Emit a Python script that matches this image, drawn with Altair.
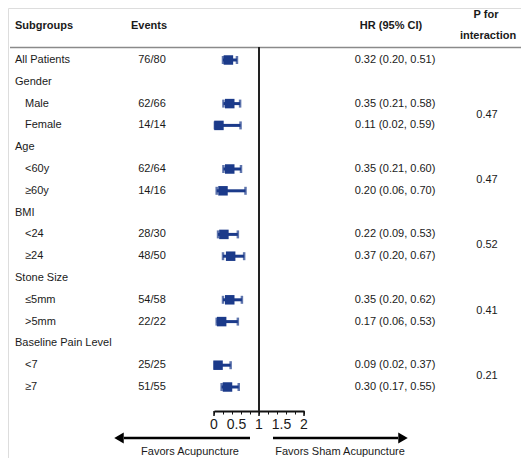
import altair as alt
import pandas as pd

# ---- data ----
labels = ["All Patients", "Gender", "Male", "Female", "Age", "<60y", "≥60y",
          "BMI", "<24", "≥24", "Stone Size", "≤5mm", ">5mm",
          "Baseline Pain Level", "<7", "≥7"]
indent = [0, 0, 1, 1, 0, 1, 1, 0, 1, 1, 0, 1, 1, 0, 1, 1]
events = ["76/80", "", "62/66", "14/14", "", "62/64", "14/16", "", "28/30", "48/50",
          "", "54/58", "22/22", "", "25/25", "51/55"]
hr = [0.32, None, 0.35, 0.11, None, 0.35, 0.20, None, 0.22, 0.37, None, 0.35, 0.17, None, 0.09, 0.30]
lo = [0.20, None, 0.21, 0.02, None, 0.21, 0.06, None, 0.09, 0.20, None, 0.20, 0.06, None, 0.02, 0.17]
hi = [0.51, None, 0.58, 0.59, None, 0.60, 0.70, None, 0.53, 0.67, None, 0.62, 0.53, None, 0.37, 0.55]
hr_text = ["0.32 (0.20, 0.51)", "", "0.35 (0.21, 0.58)", "0.11 (0.02, 0.59)", "",
           "0.35 (0.21, 0.60)", "0.20 (0.06, 0.70)", "", "0.22 (0.09, 0.53)",
           "0.37 (0.20, 0.67)", "", "0.35 (0.20, 0.62)", "0.17 (0.06, 0.53)", "",
           "0.09 (0.02, 0.37)", "0.30 (0.17, 0.55)"]
p_rows = [2.5, 5.5, 8.5, 11.5, 14.5]
p_vals = ["0.47", "0.47", "0.52", "0.41", "0.21"]
minor_ticks = [0, 0.1, 0.2, 0.3, 0.4, 0.5, 0.6, 0.7, 0.8, 0.9, 1.0,
               1.1, 1.2, 1.3, 1.4, 1.5, 1.6, 1.7, 1.8, 1.9, 2.0]
major_ticks = [0, 1, 2]
tick_label_vals = [0, 0.5, 1, 1.5, 2]
tick_label_text = ["0", "0.5", "1", "1.5", "2"]

rows = pd.DataFrame({
    "row": list(range(len(labels))),
    "label": labels,
    "indent": indent,
    "events": events,
    "hr": hr, "lo": lo, "hi": hi,
    "hr_text": hr_text,
})
est = rows.dropna(subset=["hr"])
pdf = pd.DataFrame({"row": p_rows, "p": p_vals})

NAVY = "#1b3a8a"
FONT = "Liberation Sans"
TXT = "#1a1a1a"

xs = alt.Scale(domain=[0, 2], range=[206, 296])
ys = alt.Scale(domain=[0, 15], range=[52, 379])

X_AXIS = alt.Axis(values=minor_ticks, offset=-47, domainWidth=2, domainColor="#111",
                  tickColor="#111", tickSize=3, tickWidth=1, labels=False, grid=False,
                  title=None)

base = alt.Chart(est)

ci = base.mark_rule(color=NAVY, strokeWidth=3).encode(
    x=alt.X("lo:Q", scale=xs, axis=X_AXIS), x2="hi:Q",
    y=alt.Y("row:Q", scale=ys, axis=None))
cap_lo = base.mark_tick(color=NAVY, orient="vertical", size=8, thickness=2.5).encode(
    x=alt.X("lo:Q", scale=xs), y=alt.Y("row:Q", scale=ys))
cap_hi = base.mark_tick(color=NAVY, orient="vertical", size=8, thickness=2.5).encode(
    x=alt.X("hi:Q", scale=xs), y=alt.Y("row:Q", scale=ys))
sq = base.mark_square(color=NAVY, size=90, opacity=1).encode(
    x=alt.X("hr:Q", scale=xs), y=alt.Y("row:Q", scale=ys))

lab = alt.Chart(rows).mark_text(align="left", baseline="middle", font=FONT,
                                fontSize=11, color=TXT).encode(
    x=alt.X("xpos:Q", scale=None), y=alt.Y("row:Q", scale=ys), text="label:N"
).transform_calculate(xpos="datum.indent == 1 ? 17 : 7")

ev = alt.Chart(rows).mark_text(align="center", baseline="middle", font=FONT,
                               fontSize=11, color=TXT).encode(
    x=alt.value(144), y=alt.Y("row:Q", scale=ys), text="events:N")
hrt = alt.Chart(rows).mark_text(align="center", baseline="middle", font=FONT,
                                fontSize=11, color=TXT).encode(
    x=alt.value(387), y=alt.Y("row:Q", scale=ys), text="hr_text:N")
pt = alt.Chart(pdf).mark_text(align="center", baseline="middle", font=FONT,
                              fontSize=11, color=TXT).encode(
    x=alt.value(479), y=alt.Y("row:Q", scale=ys), text="p:N")

headers = pd.DataFrame({
    "t": ["Subgroups", "Events", "HR (95% CI)", "P for", "interaction"],
    "x": [7, 141, 383, 478, 480],
    "y": [18, 18, 18, 7, 28],
    "a": ["left", "center", "center", "center", "center"],
})
hdr_left = alt.Chart(headers[headers.a == "left"]).mark_text(
    align="left", baseline="middle", font=FONT, fontSize=11, fontWeight="bold", color=TXT
).encode(x=alt.X("x:Q", scale=None), y=alt.Y("y:Q", scale=None), text="t:N")
hdr_c = alt.Chart(headers[headers.a == "center"]).mark_text(
    align="center", baseline="middle", font=FONT, fontSize=11, fontWeight="bold", color=TXT
).encode(x=alt.X("x:Q", scale=None), y=alt.Y("y:Q", scale=None), text="t:N")

hline = alt.Chart(pd.DataFrame({"a": [0]})).mark_rule(color="#8a8a8a", strokeWidth=1.5).encode(
    x=alt.value(2), x2=alt.value(513), y=alt.value(39.5))

vline = alt.Chart(pd.DataFrame({"v": [1]})).mark_rule(color="#222", strokeWidth=2).encode(
    x=alt.X("v:Q", scale=xs), y=alt.value(39), y2=alt.value(403))

major = alt.Chart(pd.DataFrame({"v": major_ticks})).mark_rule(color="#111", strokeWidth=1.5).encode(
    x=alt.X("v:Q", scale=xs), y=alt.value(403), y2=alt.value(408))

tick_labels = alt.Chart(pd.DataFrame({"v": tick_label_vals, "t": tick_label_text})).mark_text(
    align="center", baseline="middle", font=FONT, fontSize=14, color=TXT).encode(
    x=alt.X("v:Q", scale=xs), y=alt.value(417), text="t:N")

# arrows
arrow_l = alt.Chart(pd.DataFrame({"a": [0]})).mark_rule(color="#000", strokeWidth=2.5).encode(
    x=alt.value(242), x2=alt.value(116), y=alt.value(430))
arrow_r = alt.Chart(pd.DataFrame({"a": [0]})).mark_rule(color="#000", strokeWidth=2.5).encode(
    x=alt.value(265), x2=alt.value(390), y=alt.value(430))
head_l = alt.Chart(pd.DataFrame({"a": [0]})).mark_point(
    shape="triangle-left", filled=True, color="#000", size=120, opacity=1).encode(
    x=alt.value(111), y=alt.value(430))
head_r = alt.Chart(pd.DataFrame({"a": [0]})).mark_point(
    shape="triangle-right", filled=True, color="#000", size=120, opacity=1).encode(
    x=alt.value(395), y=alt.value(430))
fav = pd.DataFrame({"t": ["Favors Acupuncture", "Favors Sham Acupuncture"], "x": [182, 332]})
fav_t = alt.Chart(fav).mark_text(align="center", baseline="middle", font=FONT,
                                 fontSize=11, color=TXT).encode(
    x=alt.X("x:Q", scale=None), y=alt.value(444), text="t:N")

chart = alt.layer(
    hline, vline, ci, cap_lo, cap_hi, sq, major, tick_labels, lab, ev, hrt, pt, hdr_left, hdr_c,
    arrow_l, arrow_r, head_l, head_r, fav_t
).properties(width=513, height=450, padding=0, autosize=alt.AutoSizeParams(type="none")
).configure_view(stroke=None).configure(background="white")

chart.save("out.html", embed_options={"renderer": "svg", "actions": False})
